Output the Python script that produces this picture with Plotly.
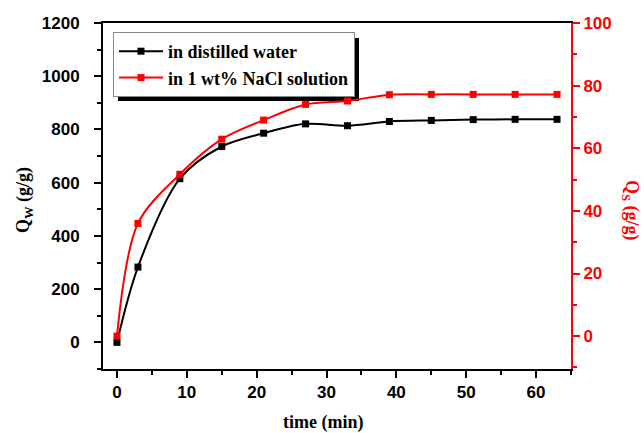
import plotly.graph_objects as go

time_min = [0, 3, 9, 15, 21, 27, 33, 39, 45, 51, 57, 63]
qw_water = [0, 283, 615, 736, 786, 821, 814, 830, 834, 837, 838, 838]
qs_nacl = [0, 36, 51.7, 62.9, 69, 74, 75.1, 77.1, 77.2, 77.2, 77.2, 77.2]

x_ticks = [0, 10, 20, 30, 40, 50, 60]
y_ticks = [0, 200, 400, 600, 800, 1000, 1200]
y2_ticks = [0, 20, 40, 60, 80, 100]

W, H = 644, 433
L, R, T, B = 103, 73, 23, 64
pw, ph = W - L - R, H - T - B

def px(x):
    return (x - L) / pw

def py(y):
    return 1 - (y - T) / ph

sans = "Liberation Sans"
serif = "Liberation Serif"
RED = "#ff0000"
tick_font = dict(family=sans, size=17, color="black", weight="bold")

fig = go.Figure()
fig.add_trace(go.Scatter(
    x=time_min, y=qw_water, name="in distilled water",
    mode="lines+markers", line=dict(color="black", width=2, shape="spline", smoothing=0.9),
    marker=dict(symbol="square", size=7, color="black"), yaxis="y"))
fig.add_trace(go.Scatter(
    x=time_min, y=qs_nacl, name="in 1 wt% NaCl solution",
    mode="lines+markers", line=dict(color=RED, width=2, shape="spline", smoothing=0.9),
    marker=dict(symbol="square", size=7, color=RED), yaxis="y2"))

fig.update_layout(
    width=W, height=H,
    margin=dict(l=L, r=R, t=T, b=B),
    paper_bgcolor="white", plot_bgcolor="rgba(0,0,0,0)",
    showlegend=True,
    legend=dict(x=px(113), y=py(32), xanchor="left", yanchor="top",
                bgcolor="white", bordercolor="#888888", borderwidth=1,
                font=dict(family=serif, size=18, color="black", weight="bold"),
                tracegroupgap=0, itemwidth=44),
    xaxis=dict(range=[-2, 65], tickvals=x_ticks, ticks="outside", ticklen=7, tickwidth=2,
               tickcolor="black", linecolor="black", linewidth=2, mirror=True,
               showgrid=False, zeroline=False, tickfont=tick_font, ticklabelstandoff=0,
               minor=dict(dtick=5, tick0=0, ticks="outside", ticklen=4, tickwidth=2, tickcolor="black")),
    yaxis=dict(range=[-100, 1200], tickvals=y_ticks, ticks="outside", ticklen=7, tickwidth=2,
               tickcolor="black", linecolor="black", linewidth=2, mirror=False,
               showgrid=False, zeroline=False, tickfont=tick_font, ticklabelstandoff=11,
               minor=dict(dtick=100, tick0=0, ticks="outside", ticklen=4, tickwidth=2, tickcolor="black")),
    yaxis2=dict(range=[-10.5, 100], tickvals=y2_ticks, overlaying="y", side="right",
                ticks="outside", ticklen=7, tickwidth=2, tickcolor=RED,
                linecolor=RED, linewidth=2, showgrid=False, zeroline=False, ticklabelstandoff=0,
                tickfont=dict(family=sans, size=17, color=RED, weight="bold"),
                minor=dict(dtick=10, tick0=0, ticks="outside", ticklen=4, tickwidth=2, tickcolor=RED)),
    shapes=[dict(type="rect", xref="paper", yref="paper",
                 x0=px(118), x1=px(359), y0=py(101), y1=py(38),
                 fillcolor="black", line=dict(width=0), layer="below")],
    annotations=[
        dict(text="time (min)", x=px(323), y=py(422), xref="paper", yref="paper",
             xanchor="center", yanchor="middle", showarrow=False,
             font=dict(family=serif, size=18, color="black", weight="bold")),
        dict(text="Q<sub>W</sub> (g/g)", x=px(24), y=py(200), xref="paper", yref="paper",
             xanchor="center", yanchor="middle", showarrow=False, textangle=-90,
             font=dict(family=serif, size=18, color="black", weight="bold")),
        dict(text="Q<sub>S</sub> (g/g)", x=px(631), y=py(210), xref="paper", yref="paper",
             xanchor="center", yanchor="middle", showarrow=False, textangle=90,
             font=dict(family=serif, size=18, color=RED, weight="bold")),
    ],
)

fig.write_html("out.html", config={"displayModeBar": False},
               post_script="document.body.style.margin='0';")
